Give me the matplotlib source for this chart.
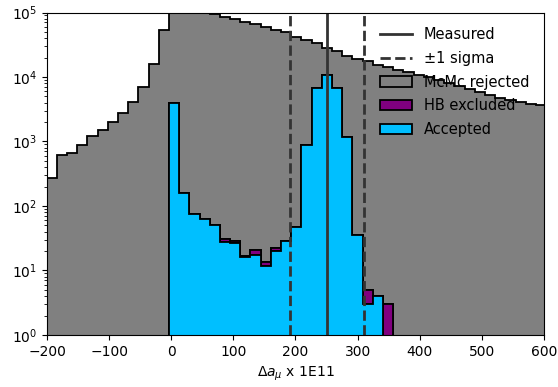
import matplotlib.pyplot as plt
import numpy as np

# Бины гистограммы по Δa_mu (x 1E11)
edges = np.linspace(-200.6, 603.5, 50)
centers = 0.5 * (edges[:-1] + edges[1:])

# Все точки McMc (полная высота столбца)
total = [275, 620, 675, 890, 1200, 1520, 1990, 2760, 4160, 7100,
         15800, 54000, 130000, 120000, 105000, 98000, 94000, 86000, 78000, 72000,
         66000, 60000, 54000, 50000, 41500, 37300, 34100, 28500, 25600, 21400,
         19200, 17600, 15500, 14200, 12900, 12000, 10800, 9900, 9040, 8120,
         7290, 6550, 5880, 5280, 4740, 4420, 4110, 3830, 3690]

# Принятые точки
accepted = [0] * 12 + [3900, 160, 74, 62, 50, 28, 27, 16, 17.6, 11.9,
                       20, 29, 47, 890, 6700, 10800, 6700, 1180, 35, 3,
                       4] + [0] * 16

# Исключённые по HB
hb_excluded = [0] * 12 + [100, 0, 0, 0, 0, 3, 2, 0.8, 3, 1.7,
                          2.4, 0, 0, 0, 0, 0, 0, 0, 0, 2,
                          0, 3] + [0] * 15

total = np.array(total, dtype=float)
accepted = np.array(accepted, dtype=float)
hb_excluded = np.array(hb_excluded, dtype=float)
rejected = total - accepted - hb_excluded

measured = 251
sigma = 59

fig = plt.figure(figsize=(5.58, 3.87), dpi=100)
ax = fig.add_axes([0.0842, 0.1344, 0.8906, 0.8333])

n, b, patches = ax.hist([centers, centers, centers], bins=edges,
                        weights=[accepted, hb_excluded, rejected],
                        stacked=True, histtype='stepfilled',
                        color=['deepskyblue', 'purple', 'gray'],
                        edgecolor='k', linewidth=1.3, log=True)

l1 = ax.axvline(measured, color='0.2', linewidth=2)
l2 = ax.axvline(measured - sigma, color='0.2', linewidth=2, linestyle='--')
ax.axvline(measured + sigma, color='0.2', linewidth=2, linestyle='--')

ax.legend([l1, l2, patches[2][0], patches[1][0], patches[0][0]],
          ['Measured', '±1 sigma', 'McMc rejected', 'HB excluded', 'Accepted'],
          loc='upper right', frameon=False, fontsize=10.5,
          labelspacing=0.6, handlelength=2.2, borderaxespad=0.6)

ax.set_xlim(-200, 600)
ax.set_ylim(1, 1e5)
ax.set_xlabel(r'$\Delta a_\mu$ x 1E11')

fig.savefig('out.png', dpi=100)
